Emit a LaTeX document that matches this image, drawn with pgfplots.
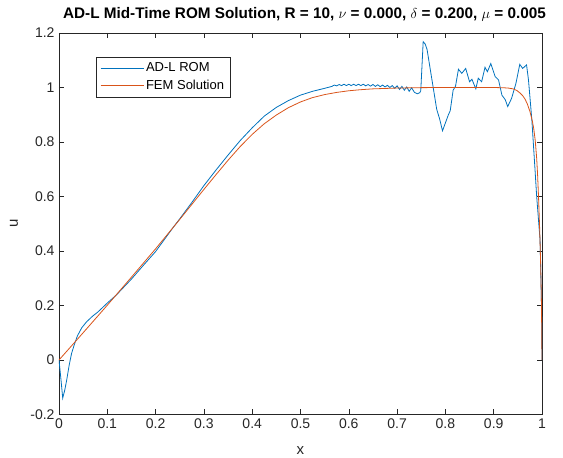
\documentclass[border=0pt]{standalone}
\usepackage{fontspec}
\setmainfont{Liberation Sans}
\usepackage{pgfplots}
\pgfplotsset{compat=1.18}
\definecolor{mblue}{rgb}{0,0.447,0.741}
\definecolor{morange}{rgb}{0.85,0.325,0.098}
\definecolor{axgray}{rgb}{0.15,0.15,0.15}
\begin{document}
\begin{tikzpicture}
\useasboundingbox (-59pt,-43.5pt) rectangle (504pt,414.5pt);
\begin{axis}[
  at={(0,0)}, anchor=south west,
  scale only axis, width=483pt, height=381.5pt,
  xmin=0, xmax=1, ymin=-0.2, ymax=1.2,
  xtick={0,0.1,0.2,0.3,0.4,0.5,0.6,0.7,0.8,0.9,1},
  xticklabels={0,0.1,0.2,0.3,0.4,0.5,0.6,0.7,0.8,0.9,1},
  ytick={-0.2,0,0.2,0.4,0.6,0.8,1,1.2},
  yticklabels={-0.2,0,0.2,0.4,0.6,0.8,1,1.2},
  tick align=inside, major tick length=5pt,
  axis line style={axgray, line width=0.6pt},
  tick style={axgray, line width=0.6pt},
  ticklabel style={font=\fontsize{14}{16}\selectfont, text=axgray},
  xticklabel style={yshift=-1pt},
  yticklabel style={xshift=-1pt},
  xlabel={x}, ylabel={u},
  label style={font=\fontsize{15}{17}\selectfont, text=axgray},
  xlabel style={at={(axis description cs:0.5,0)}, anchor=base, yshift=-40pt},
  ylabel style={at={(axis description cs:-0.093,0.5)}, anchor=center, rotate=0},
  title={AD-L Mid-Time ROM Solution, R = 10, $\nu$ = 0.000, $\delta$ = 0.200, $\mu$ = 0.005},
  title style={font=\bfseries\fontsize{15.3}{18}\selectfont, at={(axis description cs:0.5,1)}, anchor=base, yshift=8pt, xshift=4pt},
  legend style={at={(axis description cs:0.0766,0.937)}, anchor=north west, draw=axgray, line width=0.5pt,
    font=\fontsize{13}{15}\selectfont, inner xsep=4pt, inner ysep=3.5pt, row sep=3pt},
  legend cell align=left,
  legend image code/.code={\draw[#1] (2pt,0pt) -- (45pt,0pt);},
]
\addplot[mblue, line width=0.8pt] coordinates {
(0,0) (0.004,-0.07) (0.0077,-0.14) (0.012,-0.11) (0.016,-0.073) (0.021,-0.02)
(0.026,0.024) (0.032,0.058) (0.038,0.088) (0.047,0.118) (0.057,0.14) (0.069,0.16)
(0.081,0.177) (0.1,0.209) (0.119,0.239) (0.15,0.297) (0.175,0.348) (0.2,0.398)
(0.237,0.488) (0.25,0.518) (0.275,0.578) (0.3,0.64) (0.325,0.697) (0.35,0.752)
(0.375,0.805) (0.4,0.852) (0.425,0.895) (0.45,0.927) (0.475,0.952) (0.5,0.972)
(0.525,0.986) (0.55,0.997) (0.565,1.004)
(0.57,1.009) (0.575,1.006) (0.58,1.011) (0.585,1.007) (0.59,1.012) (0.595,1.007)
(0.6,1.012) (0.605,1.007) (0.61,1.012) (0.615,1.007) (0.62,1.012) (0.625,1.007)
(0.63,1.012) (0.635,1.006) (0.64,1.011) (0.645,1.005) (0.65,1.011) (0.655,1.004)
(0.66,1.010) (0.665,1.003) (0.67,1.009) (0.675,1.002) (0.68,1.008) (0.685,1.0)
(0.69,1.007) (0.695,0.997) (0.70,1.006) (0.705,0.993) (0.71,1.004) (0.715,0.99)
(0.72,1.002) (0.725,0.986) (0.73,0.999) (0.736,0.982) (0.742,0.977) (0.747,0.981)
(0.749,0.988) (0.754,1.168) (0.758,1.16) (0.762,1.14) (0.772,1.03) (0.782,0.92)
(0.788,0.885) (0.794,0.841) (0.8,0.87) (0.806,0.899) (0.81,0.915) (0.816,0.99)
(0.821,1.005) (0.827,1.067) (0.834,1.052) (0.842,1.07) (0.85,1.021) (0.855,1.03)
(0.863,0.995) (0.868,1.034) (0.875,1.021) (0.882,1.074) (0.887,1.058) (0.894,1.088)
(0.903,1.04) (0.91,1.028) (0.917,0.972) (0.924,0.955) (0.929,0.93) (0.937,0.96)
(0.946,1.015) (0.954,1.085) (0.96,1.07) (0.968,1.083) (0.972,1.028) (0.979,0.881)
(0.9855,0.7) (0.989,0.6) (0.996,0.44) (0.999,0.196) (1.0,0)
};
\addlegendentry{AD-L ROM}
\addplot[morange, line width=0.8pt] coordinates {
(0,0) (0.05,0.10) (0.1,0.201) (0.15,0.304) (0.2,0.408) (0.25,0.516) (0.3,0.626)
(0.325,0.68) (0.35,0.733) (0.375,0.783) (0.4,0.828) (0.425,0.867) (0.45,0.899)
(0.475,0.926) (0.5,0.947) (0.525,0.963) (0.55,0.974) (0.575,0.982) (0.6,0.988)
(0.625,0.992) (0.65,0.995) (0.7,0.998) (0.75,0.9995) (0.8,1.0) (0.9,1.0)
(0.92,0.999) (0.93,0.998) (0.94,0.995) (0.948,0.989) (0.955,0.979) (0.96,0.97)
(0.965,0.957) (0.97,0.938) (0.975,0.912) (0.98,0.877) (0.983,0.848) (0.986,0.805)
(0.989,0.74) (0.991,0.675) (0.993,0.59) (0.995,0.49) (0.997,0.37) (0.998,0.29)
(0.999,0.19) (1.0,0)
};
\addlegendentry{FEM Solution}
\end{axis}
\end{tikzpicture}
\end{document}
